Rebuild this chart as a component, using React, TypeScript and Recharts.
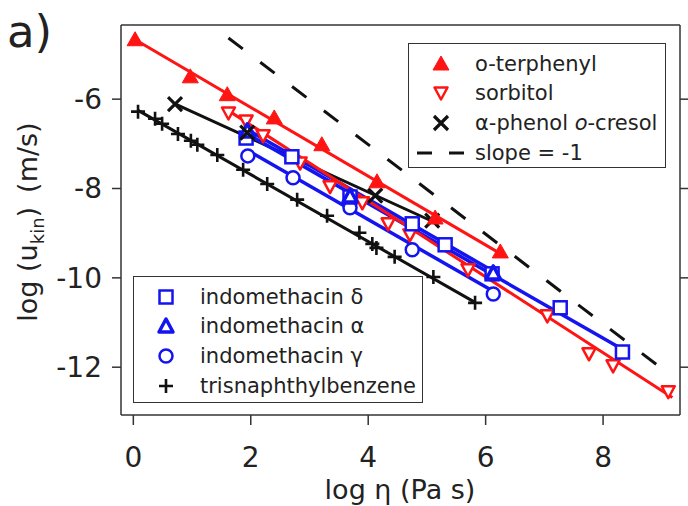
import React from "react";
import { ScatterChart, Scatter, XAxis, YAxis, Label } from "recharts";

type Pt = { x: number; y: number };

// log η (Pa s) vs log u_kin (m/s)
const terphenyl: Pt[] = [
  { x: 0.03, y: -4.67 }, { x: 0.97, y: -5.5 }, { x: 1.6, y: -5.9 }, { x: 2.4, y: -6.42 },
  { x: 3.21, y: -7.02 }, { x: 4.15, y: -7.85 }, { x: 5.14, y: -8.66 }, { x: 6.25, y: -9.42 },
];
const sorbitol: Pt[] = [
  { x: 1.62, y: -6.31 }, { x: 1.92, y: -6.49 }, { x: 2.21, y: -6.82 }, { x: 2.84, y: -7.43 },
  { x: 3.35, y: -7.96 }, { x: 3.9, y: -8.32 }, { x: 4.34, y: -8.79 }, { x: 4.71, y: -9.04 },
  { x: 5.7, y: -9.82 }, { x: 7.05, y: -10.85 }, { x: 7.76, y: -11.7 }, { x: 8.17, y: -11.97 },
  { x: 9.11, y: -12.55 },
];
const cresol: Pt[] = [
  { x: 0.71, y: -6.11 }, { x: 1.94, y: -6.75 }, { x: 4.12, y: -8.16 }, { x: 5.09, y: -8.72 },
];
const indoDelta: Pt[] = [
  { x: 1.92, y: -6.87 }, { x: 2.7, y: -7.29 }, { x: 3.69, y: -8.19 }, { x: 4.75, y: -8.79 },
  { x: 5.31, y: -9.26 }, { x: 6.11, y: -9.91 }, { x: 7.27, y: -10.67 }, { x: 8.33, y: -11.66 },
];
const indoAlpha: Pt[] = [
  { x: 1.94, y: -6.71 }, { x: 3.69, y: -8.17 }, { x: 6.13, y: -9.89 },
];
const indoGamma: Pt[] = [
  { x: 1.95, y: -7.27 }, { x: 2.72, y: -7.76 }, { x: 3.69, y: -8.43 }, { x: 4.75, y: -9.37 },
  { x: 6.13, y: -10.36 },
];
const tnb: Pt[] = [
  { x: 0.08, y: -6.28 }, { x: 0.37, y: -6.44 }, { x: 0.49, y: -6.55 }, { x: 0.76, y: -6.78 },
  { x: 0.98, y: -6.93 }, { x: 1.09, y: -7.02 }, { x: 1.43, y: -7.25 }, { x: 1.87, y: -7.58 },
  { x: 2.28, y: -7.9 }, { x: 2.79, y: -8.25 }, { x: 3.3, y: -8.61 }, { x: 3.85, y: -8.99 },
  { x: 4.07, y: -9.24 }, { x: 4.14, y: -9.33 }, { x: 4.45, y: -9.53 }, { x: 5.11, y: -9.98 },
  { x: 5.82, y: -10.56 },
];

// fitted lines (end points)
const terphenylFit: Pt[] = [{ x: 0.02, y: -4.66 }, { x: 6.28, y: -9.48 }];
const sorbitolFit: Pt[] = [{ x: 1.6, y: -6.24 }, { x: 9.18, y: -12.68 }];
const cresolFit: Pt[] = [{ x: 0.7, y: -6.1 }, { x: 5.2, y: -8.8 }];
const deltaFit: Pt[] = [{ x: 1.9, y: -6.75 }, { x: 8.33, y: -11.6 }];
const alphaFit: Pt[] = [{ x: 1.94, y: -6.68 }, { x: 6.13, y: -9.85 }];
const gammaFit: Pt[] = [{ x: 1.95, y: -7.15 }, { x: 6.13, y: -10.3 }];
const tnbFit: Pt[] = [{ x: 0.08, y: -6.25 }, { x: 5.82, y: -10.55 }];
const slopeOne: Pt[] = [{ x: 1.62, y: -4.63 }, { x: 9.02, y: -12.05 }];

const xTicks = [0, 2, 4, 6, 8];
const yTicks = [-12, -10, -8, -6];

const RED = "#ff1414";
const BLUE = "#1414f0";
const INK = "#111";
const FRAME = "#333";
const FONT = "DejaVu Sans";

type Kind = "triUp" | "triDown" | "cross" | "square" | "triOpen" | "circle" | "plus";

function Marker({ kind, cx, cy, color }: { kind: Kind; cx: number; cy: number; color: string }) {
  switch (kind) {
    case "triUp":
      return <path d={`M${cx},${cy - 8}L${cx + 8},${cy + 6}L${cx - 8},${cy + 6}Z`} fill={color} stroke={color} strokeWidth={1} strokeLinejoin="round" />;
    case "triDown":
      return <path d={`M${cx - 6.5},${cy - 5.5}L${cx + 6.5},${cy - 5.5}L${cx},${cy + 6.5}Z`} fill="#fff" stroke={color} strokeWidth={2.5} strokeLinejoin="round" />;
    case "cross":
      return <path d={`M${cx - 7},${cy - 7}L${cx + 7},${cy + 7}M${cx + 7},${cy - 7}L${cx - 7},${cy + 7}`} stroke={color} strokeWidth={3.2} />;
    case "square":
      return <rect x={cx - 6.5} y={cy - 6.5} width={13} height={13} fill="#fff" stroke={color} strokeWidth={2.5} />;
    case "triOpen":
      return <path d={`M${cx},${cy - 7}L${cx + 7},${cy + 6}L${cx - 7},${cy + 6}Z`} fill="#fff" stroke={color} strokeWidth={3.5} strokeLinejoin="round" />;
    case "circle":
      return <circle cx={cx} cy={cy} r={6.5} fill="#fff" stroke={color} strokeWidth={2.5} />;
    case "plus":
      return <path d={`M${cx - 7},${cy}L${cx + 7},${cy}M${cx},${cy - 7}L${cx},${cy + 7}`} stroke={color} strokeWidth={2.6} />;
  }
  return null;
}

const fits = [
  { data: tnbFit, color: INK, width: 3 },
  { data: gammaFit, color: BLUE, width: 3.5 },
  { data: cresolFit, color: INK, width: 3 },
  { data: alphaFit, color: BLUE, width: 3.5 },
  { data: deltaFit, color: BLUE, width: 3.5 },
  { data: sorbitolFit, color: RED, width: 3 },
  { data: terphenylFit, color: RED, width: 3 },
];

const series: { data: Pt[]; kind: Kind; color: string }[] = [
  { data: tnb, kind: "plus", color: INK },
  { data: indoGamma, kind: "circle", color: BLUE },
  { data: sorbitol, kind: "triDown", color: RED },
  { data: indoDelta, kind: "square", color: BLUE },
  { data: indoAlpha, kind: "triOpen", color: BLUE },
  { data: cresol, kind: "cross", color: INK },
  { data: terphenyl, kind: "triUp", color: RED },
];

const legendTop = [
  { kind: "triUp" as Kind, color: RED, label: "o-terphenyl" },
  { kind: "triDown" as Kind, color: RED, label: "sorbitol" },
  { kind: "cross" as Kind, color: INK, label: "α-phenol", italic: "o", rest: "-cresol" },
  { kind: "dash" as const, color: INK, label: "slope = -1" },
];
const legendBottom = [
  { kind: "square" as Kind, color: BLUE, label: "indomethacin δ" },
  { kind: "triOpen" as Kind, color: BLUE, label: "indomethacin α" },
  { kind: "circle" as Kind, color: BLUE, label: "indomethacin γ" },
  { kind: "plus" as Kind, color: INK, label: "trisnaphthylbenzene" },
];

const rowY = [20, 49, 79, 109];

function LegendBox({ left, top, width, height, items }: { left: number; top: number; width: number; height: number; items: any[] }) {
  return (
    <div style={{ position: "absolute", left, top, width, height, border: `1.5px solid ${FRAME}`, background: "#fff", boxSizing: "border-box", fontFamily: FONT, fontSize: 21, color: "#222" }}>
      {items.map((it, i) => (
        <React.Fragment key={i}>
          <svg style={{ position: "absolute", left: 2, top: rowY[i] - 14 }} width={60} height={28}>
            {it.kind === "dash" ? (
              <path d="M6,14L21,14M38,14L53,14" stroke={it.color} strokeWidth={3} />
            ) : (
              <Marker kind={it.kind} cx={30} cy={14} color={it.color} />
            )}
          </svg>
          <div style={{ position: "absolute", left: 66, top: rowY[i] - 14, lineHeight: "28px", whiteSpace: "pre" }}>
            {it.label}
            {it.italic ? <> <i>{it.italic}</i>{it.rest}</> : null}
          </div>
        </React.Fragment>
      ))}
    </div>
  );
}

const axisLine = { stroke: FRAME, strokeWidth: 1.5 };
const tickStyle = { fill: "#222", fontSize: 28, fontFamily: FONT };

export default function App() {
  return (
    <div style={{ position: "absolute", left: 0, top: 0, width: 688, height: 506, background: "#fff" }}>
      <ScatterChart width={688} height={506} margin={{ top: 0, right: 0, bottom: 0, left: 0 }}>
        <XAxis type="number" dataKey="x" domain={[-0.21, 9.31]} ticks={xTicks} allowDataOverflow height={91}
          axisLine={axisLine} tickLine={axisLine} tickSize={10} tickMargin={22} tick={tickStyle}>
          <Label content={() => (
            <text x={400} y={499} textAnchor="middle" fontSize={27} fontFamily={FONT} fill="#222">log η (Pa s)</text>
          )} />
        </XAxis>
        <XAxis xAxisId="t" orientation="top" type="number" domain={[-0.21, 9.31]} ticks={xTicks} allowDataOverflow height={25}
          axisLine={axisLine} tickLine={axisLine} tickSize={8} tickFormatter={() => ""} />
        <YAxis type="number" dataKey="y" domain={[-13.07, -4.34]} ticks={yTicks} allowDataOverflow width={121}
          axisLine={axisLine} tickLine={axisLine} tickSize={9} tickMargin={10} tick={tickStyle}>
          <Label content={() => (
            <text transform="translate(37,222) rotate(-90)" textAnchor="middle" fontSize={27} fontFamily={FONT} fill="#222">
              log (u<tspan fontSize={18} dy={7}>kin</tspan><tspan dy={-7}>)</tspan><tspan dx={14}>(m/s)</tspan>
            </text>
          )} />
        </YAxis>
        <YAxis yAxisId="r" orientation="right" type="number" domain={[-13.07, -4.34]} ticks={yTicks} allowDataOverflow width={8}
          axisLine={axisLine} tickLine={axisLine} tickSize={8} tickFormatter={() => ""} />

        <Scatter data={slopeOne} line={{ stroke: INK, strokeWidth: 3, strokeDasharray: "18 22" }} shape={() => <g />} isAnimationActive={false} />
        {fits.map((f, i) => (
          <Scatter key={"f" + i} data={f.data} line={{ stroke: f.color, strokeWidth: f.width }} shape={() => <g />} isAnimationActive={false} />
        ))}
        {series.map((s, i) => (
          <Scatter key={"s" + i} data={s.data} isAnimationActive={false}
            shape={(p: any) => <Marker kind={s.kind} cx={p.cx} cy={p.cy} color={s.color} />} />
        ))}
      </ScatterChart>
      <div style={{ position: "absolute", left: 7, top: 5, fontFamily: FONT, fontSize: 45, color: "#222", lineHeight: "54px" }}>a)</div>
      <LegendBox left={408} top={43} width={258} height={125} items={legendTop} />
      <LegendBox left={133} top={276} width={290} height={127} items={legendBottom} />
    </div>
  );
}
